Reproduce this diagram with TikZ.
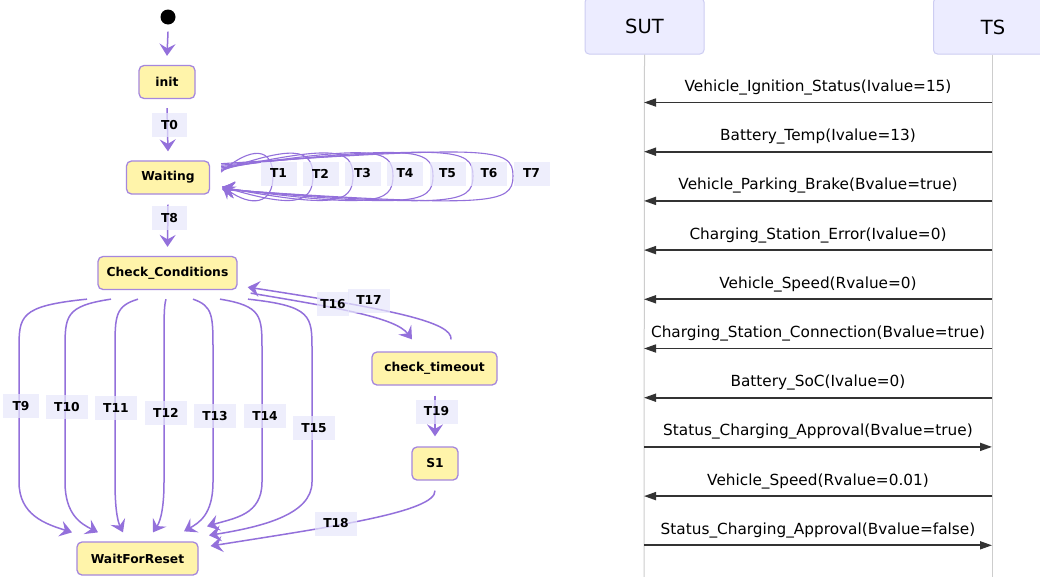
\documentclass[tikz,border=0pt]{standalone}
\usepackage{fontspec}
\setmainfont{DejaVu Sans}
\usetikzlibrary{arrows.meta,calc}
\definecolor{edge}{RGB}{147,112,219}
\definecolor{stfill}{RGB}{255,244,170}
\definecolor{stdraw}{RGB}{165,135,222}
\definecolor{lblfill}{RGB}{232,232,252}
\definecolor{actfill}{RGB}{236,236,255}
\definecolor{actdraw}{RGB}{205,205,242}
\definecolor{msg}{RGB}{51,51,51}
\definecolor{life}{RGB}{205,205,205}
\begin{document}
\begin{tikzpicture}[x=1pt,y=-1pt,
  state/.style={draw=stdraw, fill=stfill, line width=1.3pt, rounded corners=5pt,
    font=\bfseries\fontsize{12.3}{14}\selectfont, inner sep=0pt, minimum height=33pt},
  tlbl/.style={fill=lblfill, fill opacity=0.7, text opacity=1,
    font=\bfseries\fontsize{12.3}{14}\selectfont, minimum height=24pt, inner sep=0pt, minimum width=36pt},
  tr/.style={draw=edge, line width=1.5pt, -{Stealth[length=12pt,width=16pt,inset=4.5pt]}},
  actor/.style={draw=actdraw, fill=actfill, line width=1pt, rounded corners=4pt,
    font=\fontsize{19.5}{22}\selectfont, minimum height=56pt, inner sep=0pt},
  msgarrow/.style={draw=msg, line width=1.7pt, -{Triangle[length=12pt,width=8pt]}},
  msglbl/.style={font=\fontsize{15.3}{18}\selectfont, inner sep=0pt},
  lifeline/.style={draw=life, line width=1pt}
]
\useasboundingbox (0,0) rectangle (1040,576);
\fill[white] (0,0) rectangle (1040,576);

% ---------- state diagram ----------
\node[circle, fill=black, minimum size=15pt, inner sep=0pt] (start) at (168,17) {};
\node[state, minimum width=56pt] (init) at (167,82) {init};
\node[state, minimum width=83pt] (W) at (168,177.5) {Waiting};
\node[state, minimum width=139pt] (CC) at (167.5,273) {Check\_Conditions};
\node[state, minimum width=121pt] (WR) at (137.5,558.5) {WaitForReset};
\node[state, minimum width=125pt] (CT) at (434.5,368.5) {check\_timeout};
\node[state, minimum width=46pt] (S1) at (435,463.5) {S1};

\draw[tr] ($(start.south)+(0,7)$) -- ($(init.north)+(0,-9)$);
\draw[tr] ($(init.south)+(0,9)$) -- ($(W.north)+(0,-9)$);
\draw[tr] ($(W.south)+(0,10)$) -- ($(CC.north)+(0,-9)$);

% self loops T1..T7
\foreach \k in {1,...,7}{
  \pgfmathsetmacro\r{273+40*(\k-1)}
  \pgfmathsetmacro\rc{\r-22}
  \pgfmathsetmacro\ys{-4-1.4*\k}
  \pgfmathsetmacro\ye{8+0.6*\k}
  \draw[tr, line width=1.1pt] ($(W.east)+(11,\ys)$) .. controls (\rc,146) and (\r,147) .. (\r,176)
     .. controls (\r,205) and (\rc,207) .. ($(W.east)+(12,\ye)$);
}
\foreach \k/\lx in {1/278.5,2/320.5,3/362.5,4/405,5/447.5,6/489,7/531.5}{
  \node[tlbl] (lT\k) at (\lx,173.5) {T\k};
}
\node[tlbl, minimum width=35pt] (lT0) at (169.5,125) {T0};
\node[tlbl, minimum width=35pt] (lT8) at (169.5,218) {T8};

% T9..T15
\foreach \n/\sx/\vx/\ex/\ey in {9/87/19/72/533, 10/111/65/98/533, 11/138/115/123/533,
   12/166/164/153/533, 13/193/213/184/532, 14/220/262/207/527, 15/248/312/209/536}{
  \pgfmathsetmacro\dsx{\sx-167.5}
  \pgfmathsetmacro\dex{\ex-137.5}
  \pgfmathsetmacro\dey{\ey-542}
  \pgfmathsetmacro\mx{(\vx+\ex)/2}
  \pgfmathsetmacro\my{\ey-9}
  \draw[tr] ($(CC.south)+(\dsx,9)$) .. controls (\vx,306) and (\vx,316) .. (\vx,350)
     -- (\vx,482) .. controls (\vx,515) and (\mx,\my) .. ($(WR.north)+(\dex,\dey)$);
}
\foreach \n/\lx/\ly/\w in {9/21/406/36, 10/67/407/42, 11/116/408/42, 12/166/413/42,
   13/215/416/42, 14/265/416/42, 15/314/428/42}{
  \node[tlbl, minimum width=\w pt] (lT\n) at (\lx,\ly) {T\n};
}

% T16, T17, T18, T19
\draw[tr] ($(CC.south east)+(13,3)$) .. controls (340,308) and (396,318) .. ($(CT.north)+(-22.5,-12)$);
\draw[tr] ($(CT.north)+(16.5,-12)$) .. controls (453,322) and (390,309) .. ($(CC.south east)+(10,-3)$);
\draw[tr] ($(S1.south)+(0,10)$) .. controls (436,512) and (330,527) .. ($(WR.east)+(12,-12.5)$);
\draw[tr] ($(CT.south)+(0.5,10)$) -- ($(S1.north)+(0,-10)$);
\node[tlbl, minimum width=32pt] (lT16) at (333,304) {T16};
\node[tlbl, minimum width=42pt] (lT17) at (369,300.5) {T17};
\node[tlbl, minimum width=42pt] (lT18) at (336,523.5) {T18};
\node[tlbl, minimum width=42pt] (lT19) at (436.5,411.5) {T19};

% ---------- sequence diagram ----------
\node[actor, minimum width=119pt] (SUT) at (644.5,26) {SUT};
\node[actor, minimum width=120pt, anchor=west] (TS) at (933,26) {\hspace*{0pt}};
\node[font=\fontsize{19.5}{22}\selectfont, inner sep=0pt] (TSt) at (993,27) {TS};
\coordinate (sutEnd) at (644,580);
\coordinate (tsEnd) at (992,580);
\draw[lifeline] (SUT.south) -- (sutEnd);
\draw[lifeline] (TS.south -| tsEnd) -- (tsEnd);

\foreach \i/\t/\f/\g in {
  1/{Vehicle\_Ignition\_Status(Ivalue=15)}/b/a,
  2/{Battery\_Temp(Ivalue=13)}/b/a,
  3/{Vehicle\_Parking\_Brake(Bvalue=true)}/b/a,
  4/{Charging\_Station\_Error(Ivalue=0)}/b/a,
  5/{Vehicle\_Speed(Rvalue=0)}/b/a,
  6/{Charging\_Station\_Connection(Bvalue=true)}/b/a,
  7/{Battery\_SoC(Ivalue=0)}/b/a,
  8/{Status\_Charging\_Approval(Bvalue=true)}/a/b,
  9/{Vehicle\_Speed(Rvalue=0.01)}/b/a,
  10/{Status\_Charging\_Approval(Bvalue=false)}/a/b}{
  \pgfmathsetmacro\yy{102.5+49.2*(\i-1)}
  \pgfmathsetmacro\ly{\yy-15}
  \coordinate (a\i) at (644,\yy);
  \coordinate (b\i) at (992,\yy);
  \draw[msgarrow] (\f\i) -- (\g\i);
  \node[msglbl] (m\i) at (818,\ly) {\t};
}
\end{tikzpicture}
\end{document}
